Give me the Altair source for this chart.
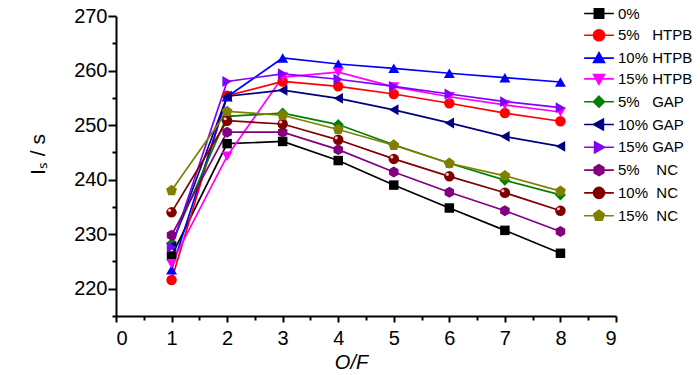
import altair as alt
import pandas as pd

# ---------------- data ----------------
of_ratio = [1, 2, 3, 4, 5, 6, 7, 8]

series_names = [
    "0%",
    "5%\u00a0\u00a0\u00a0HTPB",
    "10% HTPB",
    "15% HTPB",
    "5%\u00a0\u00a0\u00a0GAP",
    "10% GAP",
    "15% GAP",
    "5%\u00a0\u00a0\u00a0\u00a0NC",
    "10%\u00a0\u00a0NC",
    "15%\u00a0\u00a0NC",
]

isp_0 = [226.0, 246.6, 247.0, 243.5, 239.0, 234.8, 230.7, 226.5]
isp_htpb5 = [221.6, 255.4, 258.0, 257.1, 255.7, 254.0, 252.2, 250.7]
isp_htpb10 = [223.5, 255.2, 262.3, 261.2, 260.4, 259.5, 258.7, 257.9]
isp_htpb15 = [224.6, 244.3, 258.8, 259.7, 257.0, 255.2, 253.7, 252.4]
isp_gap5 = [228.3, 251.6, 252.2, 250.1, 246.4, 243.0, 239.9, 237.2]
isp_gap10 = [227.8, 255.3, 256.4, 254.9, 252.8, 250.4, 247.9, 246.1]
isp_gap15 = [227.6, 258.0, 259.4, 258.4, 257.1, 255.7, 254.3, 253.2]
isp_nc5 = [229.8, 248.7, 248.7, 245.5, 241.4, 237.7, 234.3, 230.5]
isp_nc10 = [234.0, 250.8, 250.2, 247.3, 243.8, 240.6, 237.6, 234.3]
isp_nc15 = [238.0, 252.5, 251.8, 249.2, 246.3, 243.0, 240.7, 237.9]

all_series = [isp_0, isp_htpb5, isp_htpb10, isp_htpb15, isp_gap5,
              isp_gap10, isp_gap15, isp_nc5, isp_nc10, isp_nc15]

y_major = [220, 230, 240, 250, 260, 270]
y_minor = [215, 225, 235, 245, 255, 265]
x_major = [0, 1, 2, 3, 4, 5, 6, 7, 8, 9]
x_minor = [0.5, 1.5, 2.5, 3.5, 4.5, 5.5, 6.5, 7.5, 8.5]

# ---------------- styles ----------------
colors = ["#000000", "#ff0000", "#0000ff", "#ff00ff", "#008000",
          "#000080", "#8000ff", "#800080", "#800000", "#808000"]

HEX = "M0,-1L0.866,-0.5L0.866,0.5L0,1L-0.866,0.5L-0.866,-0.5Z"
PENT = "M0,-1L0.951,-0.309L0.588,0.809L-0.588,0.809L-0.951,-0.309Z"
CIRC = "M1,0A1,1,0,1,1,-1,0A1,1,0,1,1,1,0Z"
SQ = "M-0.85,-0.85H0.85V0.85H-0.85Z"
TU = "M0,-1L1,0.8L-1,0.8Z"
TD = "M0,1L1,-0.8L-1,-0.8Z"
DIA = "M0,-1L1,0L0,1L-1,0Z"
TL = "M-1,0L0.8,-1L0.8,1Z"
TR = "M1,0L-0.8,-1L-0.8,1Z"

plot_shapes = ["square", "circle", "triangle-up", "triangle-down", "diamond",
               "triangle-left", "triangle-right", HEX, "circle", PENT]
legend_core = [SQ, CIRC, TU, TD, DIA, TL, TR, HEX, CIRC, PENT]
LINE = "M-2.7,0H2.7"
legend_shapes = [LINE + s for s in legend_core]
plot_sizes = [90, 110, 120, 120, 120, 120, 120, 120, 110, 130]

rows = []
for name, vals in zip(series_names, all_series):
    for xv, yv in zip(of_ratio, vals):
        rows.append({"series": name, "of": xv, "isp": yv})
df = pd.DataFrame(rows)

FONT = "Liberation Sans"

xs = alt.Scale(domain=[0, 9], nice=False, zero=False)
ys = alt.Scale(domain=[215, 270], nice=False, zero=False)
cs = alt.Scale(domain=series_names, range=colors)

major_x = alt.Axis(values=x_major, orient="bottom", tickSize=6, tickWidth=2,
                   domainWidth=2, domainColor="black", tickColor="black",
                   labelFont=FONT, labelFontSize=20, labelColor="black",
                   labelPadding=6, grid=False, format="d",
                   title="O/F", titleFont=FONT, titleFontSize=20,
                   titleFontStyle="italic", titleFontWeight="normal",
                   titleColor="black", titleX=235, titleY=46,
                   titleBaseline="middle", titleAlign="center")
major_y = alt.Axis(values=y_major, orient="left", tickSize=8, tickWidth=2,
                   domainWidth=2, domainColor="black", tickColor="black",
                   labelFont=FONT, labelFontSize=20, labelColor="black",
                   labelPadding=1, grid=False, format="d",
                   title="I\u209b / s", titleFont=FONT, titleFontSize=21,
                   titleFontWeight="normal", titleColor="black",
                   titleX=-78, titleY=138, titleBaseline="middle",
                   titleAlign="center", titleAngle=270)
minor_x = alt.Axis(values=x_minor, orient="bottom", tickSize=4, tickWidth=2,
                   tickColor="black", domain=False, labels=False, grid=False,
                   title=None)
minor_y = alt.Axis(values=y_minor, orient="left", tickSize=4, tickWidth=2,
                   tickColor="black", domain=False, labels=False, grid=False,
                   title=None)

base = alt.Chart(df)

lines = base.mark_line(strokeWidth=1.7).encode(
    x=alt.X("of:Q", scale=xs, axis=major_x),
    y=alt.Y("isp:Q", scale=ys, axis=major_y),
    color=alt.Color("series:N", scale=cs, legend=None),
)

layers = [lines]
for i, name in enumerate(series_names):
    pt = base.transform_filter(alt.datum.series == name).mark_point(
        filled=True, opacity=1, shape=plot_shapes[i], size=plot_sizes[i],
        color=colors[i]
    ).encode(
        x=alt.X("of:Q", scale=xs, axis=minor_x if i == 0 else None),
        y=alt.Y("isp:Q", scale=ys, axis=minor_y if i == 0 else None),
    )
    layers.append(pt)

hl = base.transform_filter(alt.datum.series == series_names[8]).mark_point(
    filled=True, opacity=1, shape="circle", size=10, color="#f3c4c4",
    xOffset=-2, yOffset=-2
).encode(
    x=alt.X("of:Q", scale=xs, axis=None),
    y=alt.Y("isp:Q", scale=ys, axis=None),
)
layers.append(hl)

leg = alt.Legend(orient="none", legendX=475.5, legendY=-10, title=None,
                 labelFont=FONT, labelFontSize=15, labelColor="black",
                 symbolSize=121, symbolStrokeWidth=1.6, symbolOpacity=1,
                 rowPadding=3.8, labelOffset=11.5, padding=0,
                 symbolOffset=0, labelLimit=300)

legend_layer = base.mark_point(filled=True, size=0).encode(
    x=alt.X("of:Q", scale=xs, axis=None),
    y=alt.Y("isp:Q", scale=ys, axis=None),
    fill=alt.Fill("series:N", scale=cs, legend=leg),
    stroke=alt.Stroke("series:N", scale=cs, legend=leg),
    shape=alt.Shape("series:N",
                    scale=alt.Scale(domain=series_names, range=legend_shapes),
                    legend=leg),
)

chart = alt.layer(legend_layer, *layers).resolve_axis(
    x="independent", y="independent"
).properties(
    width=500, height=300,
    autosize=alt.AutoSizeParams(type="none"),
    padding={"left": 116, "top": 16, "right": 84, "bottom": 59},
    background="white",
).configure_view(stroke=None)

chart.save("out.html", embed_options={"renderer": "svg", "actions": False})
